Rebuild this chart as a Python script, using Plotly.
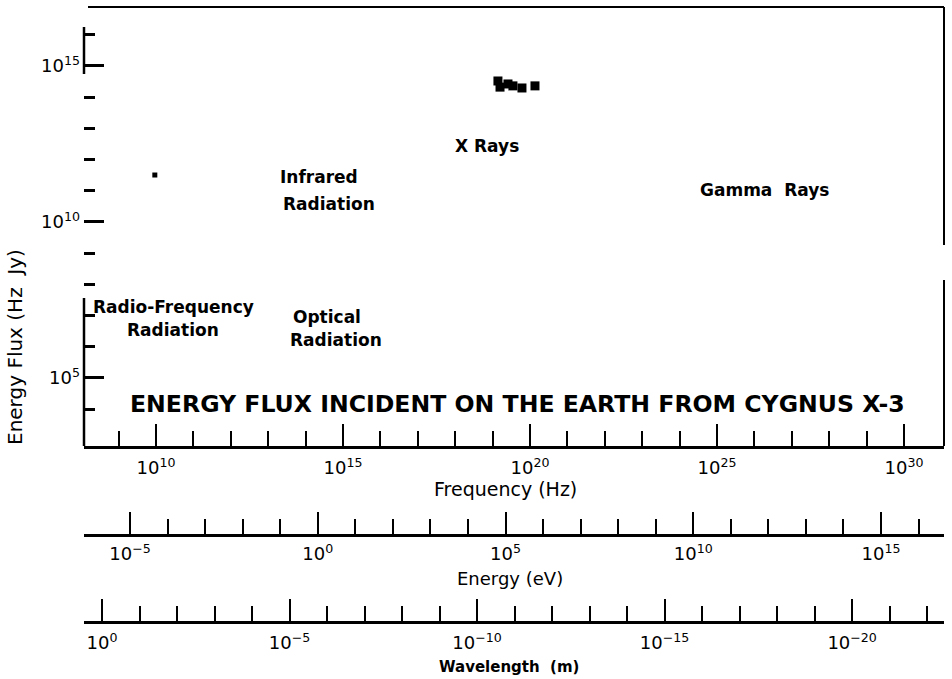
import plotly.graph_objects as go

# ---------------- data ----------------
radio_freq_hz = [9.3e9]
radio_flux = [3.2e11]
xray_freq_hz = [1.39e19, 1.58e19, 2.58e19, 3.5e19, 6.1e19, 1.36e20]
xray_flux = [3.3e14, 2.1e14, 2.65e14, 2.3e14, 1.97e14, 2.3e14]

freq_major_exp = [10, 15, 20, 25, 30]
freq_minor_exp = [e for e in range(9, 31) if e not in freq_major_exp]
energy_major_exp = [-5, 0, 5, 10, 15]
energy_minor_exp = [e for e in range(-4, 17) if e not in energy_major_exp]
wl_major_exp = [0, -5, -10, -15, -20]
wl_minor_exp = [e for e in range(-1, -23, -1) if e not in wl_major_exp]
flux_major_exp = [5, 10, 15]
flux_minor_exp = [e for e in range(4, 17) if e not in flux_major_exp]

title_text = "ENERGY FLUX INCIDENT ON THE EARTH FROM CYGNUS X-3"
region_labels = ["Radio-Frequency", "Radiation", "Optical", "Radiation",
                 "Infrared", "Radiation", "X Rays", "Gamma&nbsp;&nbsp;Rays"]

# ---------------- geometry (pixels) ----------------
W, H = 952, 679
L, R, T, BP, BPAPER = 84, 944, 7, 446, 622
PW = R - L
PH = BPAPER - T


def px(x):
    return (x - L) / PW


def py(y):
    return (BPAPER - y) / PH


FONT = "DejaVu Sans, Liberation Sans, Arial, sans-serif"


def sup(e):
    s = str(e).replace("-", "\u2212")
    return f"10<sup>{s}</sup>"


fig = go.Figure()
fig.add_trace(go.Scatter(x=radio_freq_hz, y=radio_flux, mode="markers",
                         marker=dict(symbol="square", size=5, color="black"),
                         showlegend=False, hoverinfo="x+y"))
fig.add_trace(go.Scatter(x=xray_freq_hz, y=xray_flux, mode="markers",
                         marker=dict(symbol="square", size=9, color="black"),
                         showlegend=False, hoverinfo="x+y"))
# empty traces to register the extra scale axes
fig.add_trace(go.Scatter(x=[], y=[], xaxis="x2", yaxis="y", showlegend=False))
fig.add_trace(go.Scatter(x=[], y=[], xaxis="x3", yaxis="y", showlegend=False))


def xaxis_common(major, minor, rng, standoff=4, **kw):
    d = dict(type="log", range=rng, autorange=False,
             showline=True, linecolor="black", linewidth=2.5,
             ticks="inside", ticklen=22, tickwidth=2, tickcolor="black",
             tickmode="array", tickvals=[10.0 ** e for e in major],
             ticktext=[sup(e) for e in major],
             tickfont=dict(family=FONT, size=18, color="black"),
             ticklabelstandoff=standoff,
             minor=dict(tickmode="array", tickvals=[10.0 ** e for e in minor],
                        ticks="inside", ticklen=15, tickwidth=2, tickcolor="black",
                        showgrid=False),
             showgrid=False, zeroline=False, fixedrange=True)
    d.update(kw)
    return d


y_dom0 = py(BP)
fig.update_layout(
    width=W, height=H,
    margin=dict(l=L, r=W - R, t=T, b=H - BPAPER, pad=0),
    paper_bgcolor="white", plot_bgcolor="white",
    showlegend=False,
    xaxis=xaxis_common(freq_major_exp, freq_minor_exp, [8.075, 31.07], anchor="y"),
    xaxis2=xaxis_common(energy_major_exp, energy_minor_exp, [-6.225, 16.678],
                        standoff=2, overlaying="x", anchor="free", position=py(535)),
    xaxis3=xaxis_common(wl_major_exp, wl_minor_exp, [0.48, -22.45],
                        overlaying="x", anchor="free", position=0),
    yaxis=dict(type="log", range=[2.82, 16.89], autorange=False, domain=[y_dom0, 1],
               showline=False, ticks="inside", ticklen=20, tickwidth=2.5,
               tickcolor="black", tickmode="array",
               tickvals=[10.0 ** e for e in flux_major_exp],
               ticktext=[sup(e) for e in flux_major_exp],
               tickfont=dict(family=FONT, size=18, color="black"),
               ticklabelstandoff=3,
               minor=dict(tickmode="array", tickvals=[10.0 ** e for e in flux_minor_exp],
                          ticks="inside", ticklen=11, tickwidth=2.5, tickcolor="black",
                          showgrid=False),
               showgrid=False, zeroline=False, fixedrange=True),
)


# frame pieces (scanned figure: partial border lines)
def ydom(ypix):
    return (BP - ypix) / (BP - T)


line = dict(color="black", width=2)
shapes = [
    dict(type="line", xref="x domain", yref="y domain", x0=0, x1=0,
         y0=ydom(27), y1=ydom(74), line=dict(color="black", width=2.5)),
    dict(type="line", xref="x domain", yref="y domain", x0=0, x1=0,
         y0=ydom(298), y1=0, line=dict(color="black", width=2.5)),
    dict(type="line", xref="x domain", yref="y domain", x0=px(88), x1=1,
         y0=1, y1=1, line=line),
    dict(type="line", xref="x domain", yref="y domain", x0=1, x1=1,
         y0=1, y1=ydom(245), line=line),
    dict(type="line", xref="x domain", yref="y domain", x0=1, x1=1,
         y0=ydom(280), y1=0, line=line),
]
fig.update_layout(shapes=shapes)


def ann(text, x, y, size=17, bold=True, **kw):
    t = f"<b>{text}</b>" if bold else text
    d = dict(text=t, x=px(x), y=py(y), xref="paper", yref="paper",
             showarrow=False, xanchor="center", yanchor="middle",
             font=dict(family=FONT, size=size, color="black"))
    d.update(kw)
    fig.add_annotation(**d)


ann(region_labels[0], 173, 307)
ann(region_labels[1], 173, 330)
ann(region_labels[2], 327, 317)
ann(region_labels[3], 336, 340)
ann(region_labels[4], 319, 177)
ann(region_labels[5], 329, 204)
ann(region_labels[6], 487, 146)
ann(region_labels[7], 764, 190)
ann(title_text, 517, 404, size=23.6)
ann("Frequency (Hz)", 505, 489, size=19, bold=False)
ann("Energy (eV)", 510, 578, size=18, bold=False)
ann("Wavelength&nbsp;&nbsp;(m)", 509, 667, size=15)
ann("Energy Flux (Hz&nbsp;&nbsp;Jy)", 15, 347, size=20, bold=False, textangle=-90)

fig.write_html("out.html", config={"displayModeBar": False},
               post_script="document.body.style.margin='0';")
